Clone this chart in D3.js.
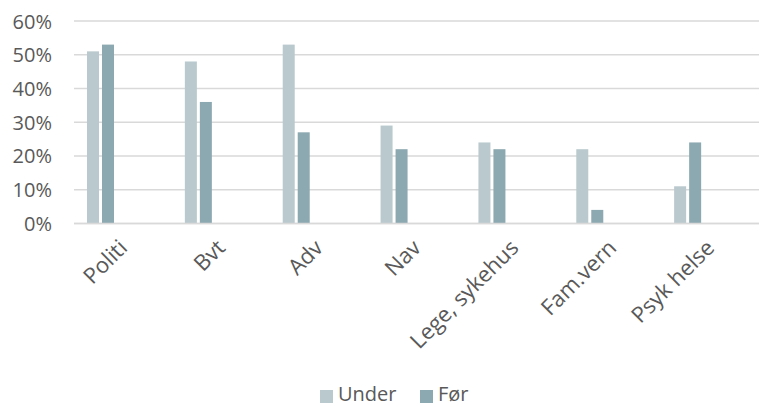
<!DOCTYPE html>
<html><head><meta charset="utf-8">
<script src="https://cdn.jsdelivr.net/npm/d3@7"></script>
<style>
body{margin:0;background:#fff;}
svg text{font-family:"Open Sans",sans-serif;fill:#595959;}
</style></head>
<body><svg id="c" width="760" height="407"></svg>
<script>
const categories = ["Politi","Bvt","Adv","Nav","Lege, sykehus","Fam.vern","Psyk helse"];
const seriesNames = ["Under","Før"];
const under = [0.51,0.48,0.53,0.29,0.24,0.22,0.11];
const foer = [0.53,0.36,0.27,0.22,0.22,0.04,0.24];
const yTicks = [0,0.1,0.2,0.3,0.4,0.5,0.6];
const colors = ["#b9c9ce","#8ca8b0"];

const svg = d3.select("#c");
const plotLeft = 74, plotRight = 759, plotTop = 21, plotBottom = 223.4;
const x0 = d3.scaleBand().domain(categories).range([plotLeft,plotRight]);
const x1 = d3.scaleBand().domain(seriesNames).range([0,27]).paddingInner(0.2);
const groupOffset = 13;
const y = d3.scaleLinear().domain([0,0.6]).range([plotBottom,plotTop]);

// gridlines
svg.append("g").selectAll("line").data(yTicks).join("line")
  .attr("x1",plotLeft).attr("x2",plotRight)
  .attr("y1",d=>y(d)).attr("y2",d=>y(d))
  .attr("stroke","#d9d9d9").attr("stroke-width",1.5);

// y axis labels
const yAxis = d3.axisLeft(y).tickValues(yTicks).tickFormat(d3.format(".0%")).tickSize(0).tickPadding(0);
const ya = svg.append("g").attr("transform","translate(52,0)").call(yAxis);
ya.select(".domain").remove();
ya.selectAll("text").attr("font-size",20).attr("font-family","Open Sans").attr("fill","#595959").attr("dy","0.35em");

// bars
const data = [under, foer];
seriesNames.forEach((s,si)=>{
  svg.append("g").selectAll("rect").data(categories).join("rect")
    .attr("x",(c)=>x0(c)+groupOffset+x1(s))
    .attr("width",x1.bandwidth())
    .attr("y",(c,i)=>y(data[si][i]))
    .attr("height",(c,i)=>y(0)-y(data[si][i]))
    .attr("fill",colors[si]);
});
svg.append("line").attr("x1",plotLeft).attr("x2",plotRight).attr("y1",y(0)).attr("y2",y(0))
  .attr("stroke","#d9d9d9").attr("stroke-width",1.5);

// x labels
svg.append("g").selectAll("text").data(categories).join("text")
  .attr("transform",c=>`translate(${x0(c)+x0.bandwidth()/2-6},237.5) rotate(-45)`)
  .attr("text-anchor","end").attr("dy","0.75em")
  .attr("font-size",22).text(c=>c);

// legend
const leg = svg.append("g");
const legX = [320,420];
seriesNames.forEach((s,i)=>{
  leg.append("rect").attr("x",legX[i]).attr("y",390).attr("width",13).attr("height",13).attr("fill",colors[i]);
  leg.append("text").attr("x",legX[i]+18).attr("y",401).attr("font-size",20).text(s);
});
</script></body></html>
